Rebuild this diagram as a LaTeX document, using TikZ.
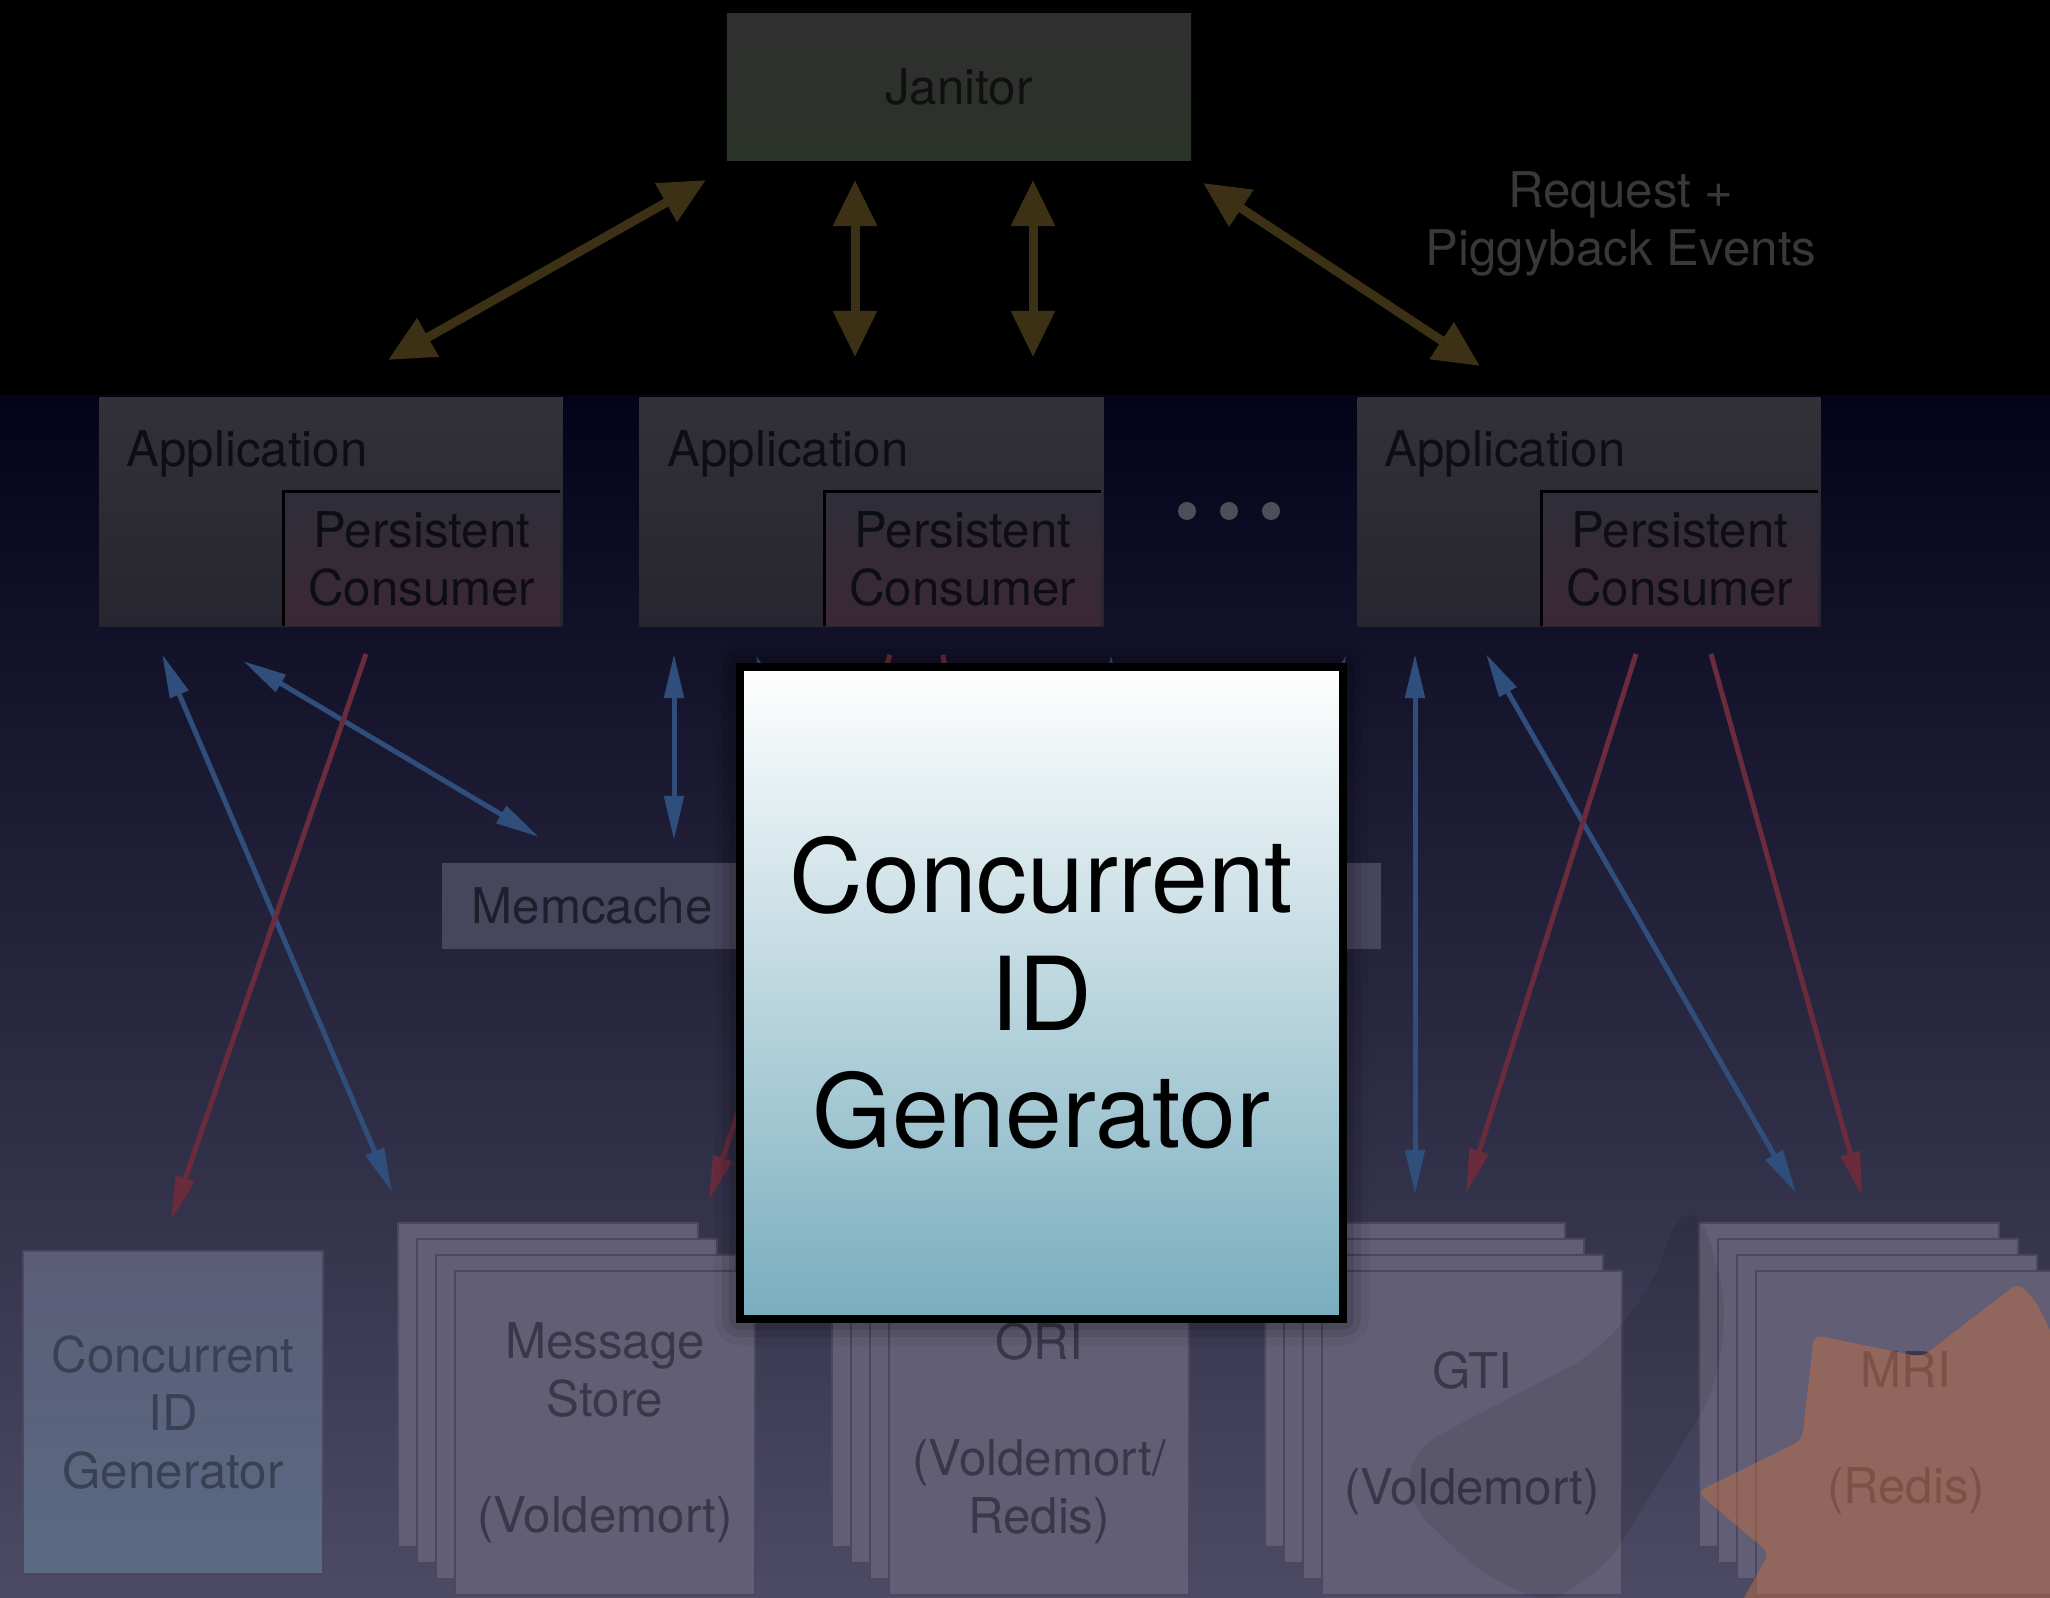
\documentclass[tikz,border=0pt]{standalone}
\usepackage{fontspec}
\setmainfont{TeX Gyre Heros}
\usetikzlibrary{arrows.meta,shadows.blur}
\definecolor{bgtop}{HTML}{03031A}
\definecolor{bgbot}{HTML}{4C4A64}
\definecolor{jantop}{HTML}{2F2F2F}
\definecolor{janbot}{HTML}{2B3229}
\definecolor{jantext}{HTML}{101010}
\definecolor{brownc}{HTML}{3C3015}
\definecolor{apptop}{HTML}{323138}
\definecolor{appbot}{HTML}{27252F}
\definecolor{pctop}{HTML}{2F2E38}
\definecolor{pcbot}{HTML}{3B2736}
\definecolor{apptext}{HTML}{0D0D14}
\definecolor{memfill}{HTML}{48465C}
\definecolor{memtext}{HTML}{1E1E2C}
\definecolor{boxfill}{HTML}{625E76}
\definecolor{boxline}{HTML}{4A475E}
\definecolor{boxtext}{HTML}{3A3749}
\definecolor{cidtop}{HTML}{5B5C78}
\definecolor{cidbot}{HTML}{5A6A82}
\definecolor{cidtext}{HTML}{394054}
\definecolor{bluec}{HTML}{2F4E7B}
\definecolor{redc}{HTML}{6A2C3D}
\definecolor{starc}{RGB}{190,110,70}
\definecolor{reqtext}{HTML}{383838}
\definecolor{dotc}{HTML}{4E4E58}
\definecolor{cgbot}{HTML}{78ADBE}
\tikzset{
  smallfont/.style={font=\fontsize{14}{16.5}\selectfont},
  janbox/.style={rectangle, inner sep=0, top color=jantop, bottom color=janbot, text=jantext, smallfont},
  appbox/.style={rectangle, inner sep=0, top color=apptop, bottom color=appbot, anchor=north west},
  pcbox/.style={rectangle, inner sep=0, top color=pctop, bottom color=pcbot, text=apptext, align=center, smallfont, anchor=south east, minimum width=2.75cm, minimum height=1.33cm},
  applabel/.style={inner sep=0, anchor=base west, text=apptext, smallfont},
  membox/.style={rectangle, inner sep=0, fill=memfill, text=memtext, smallfont, minimum width=3cm, minimum height=0.86cm},
  stackbox/.style={rectangle, inner sep=0, fill=boxfill, draw=boxline, line width=0.02cm, anchor=north west, minimum width=3cm, minimum height=3.24cm, text=boxtext, align=center, smallfont},
  cidbox/.style={rectangle, inner sep=0, top color=cidtop, bottom color=cidbot, draw=boxline, line width=0.02cm, anchor=north west, minimum width=3cm, minimum height=3.23cm, text=cidtext, align=center, smallfont},
  dotnode/.style={circle, fill=dotc, inner sep=0, minimum size=0.18cm},
  brownarrow/.style={draw=brownc, line width=0.09cm, {Triangle[length=0.46cm,width=0.42cm]}-{Triangle[length=0.46cm,width=0.42cm]}},
  bluearrow/.style={draw=bluec, line width=0.05cm, {Triangle[length=0.44cm,width=0.19cm]}-{Triangle[length=0.44cm,width=0.19cm]}},
  redarrow/.style={draw=redc, line width=0.05cm, -{Triangle[length=0.44cm,width=0.19cm]}},
  cgbox/.style={rectangle, inner sep=0, draw=black, line width=0.08cm, top color=white, bottom color=cgbot, align=center, font=\fontsize{29}{33.4}\selectfont, minimum width=6.03cm, minimum height=6.52cm, blur shadow={shadow xshift=0cm, shadow yshift=0cm, shadow blur radius=0.25cm, shadow opacity=70}}
}
\begin{document}
\begin{tikzpicture}[x=0.01cm,y=-0.01cm]
\useasboundingbox (0,0) rectangle (2050,1598);
% background
\fill[black] (0,0) rectangle (2050,397);
\shade[top color=bgtop, bottom color=bgbot] (0,396) rectangle (2050,1598);

% Janitor
\node[janbox, minimum width=4.64cm, minimum height=1.46cm] (jan) at (959,87) {Janitor};
\node[inner sep=0, text=reqtext, align=center, smallfont] (req) at (1621,224) {Request +\\Piggyback Events};

% brown arrow ends
\coordinate (b1t) at (706,180); \coordinate (b1b) at (388,360);
\coordinate (b2t) at (855,180); \coordinate (b2b) at (855,357);
\coordinate (b3t) at (1033,180); \coordinate (b3b) at (1033,357);
\coordinate (b4t) at (1203,183); \coordinate (b4b) at (1480,366);
\draw[brownarrow] (b1t) -- (b1b);
\draw[brownarrow] (b2t) -- (b2b);
\draw[brownarrow] (b3t) -- (b3b);
\draw[brownarrow] (b4t) -- (b4b);

% Applications
\node[appbox, minimum width=4.63cm, minimum height=2.29cm] (app1) at (99,397) {};
\node[appbox, minimum width=4.64cm, minimum height=2.29cm] (app2) at (639,397) {};
\node[appbox, minimum width=4.63cm, minimum height=2.29cm] (app3) at (1357,397) {};
\node[pcbox] (pc1) at (560,626) {Persistent\\Consumer};
\node[pcbox] (pc2) at (1101,626) {Persistent\\Consumer};
\node[pcbox] (pc3) at (1818,626) {Persistent\\Consumer};
\foreach \p in {pc1,pc2,pc3}
  \draw[black, line width=0.025cm] (\p.south west) -- (\p.north west) -- (\p.north east);
\node[applabel] (al1) at (126,467) {Application};
\node[applabel] (al2) at (667,467) {Application};
\node[applabel] (al3) at (1384,467) {Application};
\node[dotnode] (d1) at (1187,511) {};
\node[dotnode] (d2) at (1229,511) {};
\node[dotnode] (d3) at (1271,511) {};

% Memcache boxes
\node[membox] (mem) at (592,906) {Memcache};
\node[membox] (mem2) at (1231,906) {};

% bottom boxes
\node[cidbox] (cid) at (22,1250) {Concurrent\\ID\\Generator};
\node[stackbox] (ms1) at (397,1222) {};
\node[stackbox] (ms2) at (416,1238) {};
\node[stackbox] (ms3) at (435,1254) {};
\node[stackbox] (ms4) at (454,1270) {Message\\Store\\~\\(Voldemort)};
\node[stackbox] (ori1) at (831,1222) {};
\node[stackbox] (ori2) at (850,1238) {};
\node[stackbox] (ori3) at (869,1254) {};
\node[stackbox] (ori4) at (888,1270) {ORI\\~\\(Voldemort/\\Redis)};
\node[stackbox] (gti1) at (1264,1222) {};
\node[stackbox] (gti2) at (1283,1238) {};
\node[stackbox] (gti3) at (1302,1254) {};
\node[stackbox] (gti4) at (1321,1270) {GTI\\~\\(Voldemort)};
\node[stackbox] (mri1) at (1698,1222) {};
\node[stackbox] (mri2) at (1717,1238) {};
\node[stackbox] (mri3) at (1736,1254) {};
\node[stackbox] (mri4) at (1755,1270) {MRI\\~\\(Redis)};

% overlays
\fill[black, opacity=0.08, rounded corners=0.8cm] (1372,1470) -- (1640,1330) -- (1690,1170) -- (1740,1350) -- (1580,1610) -- (1520,1610) -- cycle;
\fill[starc, opacity=0.5, rounded corners=0.08cm] (2018,1283) -- (1922,1357) -- (1814,1335) -- (1802,1440) -- (1697,1492) -- (1769,1553) -- (1740,1605) -- (2055,1605) -- (2055,1340) -- (2035,1300) -- cycle;

% blue / red arrow ends
\coordinate (u1) at (162,654); \coordinate (v1) at (392,1192);
\coordinate (u2) at (243,661); \coordinate (v2) at (539,837);
\coordinate (u3) at (674,654); \coordinate (v3) at (674,840);
\coordinate (u4) at (756,655); \coordinate (v4) at (960,1195);
\coordinate (u5) at (1111,655); \coordinate (v5) at (1120,1195);
\coordinate (u6) at (1346,655); \coordinate (v6) at (1180,1195);
\coordinate (u7) at (1415,654); \coordinate (v7) at (1415,1194);
\coordinate (u8) at (1486,654); \coordinate (v8) at (1796,1193);
\coordinate (r1a) at (366,654); \coordinate (r1b) at (171,1220);
\coordinate (r2a) at (890,655); \coordinate (r2b) at (709,1200);
\coordinate (r3a) at (943,655); \coordinate (r3b) at (1030,1195);
\coordinate (r4a) at (1636,654); \coordinate (r4b) at (1466,1193);
\coordinate (r5a) at (1711,654); \coordinate (r5b) at (1862,1196);
\foreach \a/\b in {u1/v1,u2/v2,u3/v3,u4/v4,u5/v5,u6/v6,u7/v7,u8/v8}
  \draw[bluearrow] (\a) -- (\b);
\foreach \a/\b in {r1a/r1b,r2a/r2b,r3a/r3b,r4a/r4b,r5a/r5b}
  \draw[redarrow] (\a) -- (\b);

% central highlighted box
\node[cgbox] (cg) at (1041.5,993) {Concurrent\\ID\\Generator};
\end{tikzpicture}
\end{document}
